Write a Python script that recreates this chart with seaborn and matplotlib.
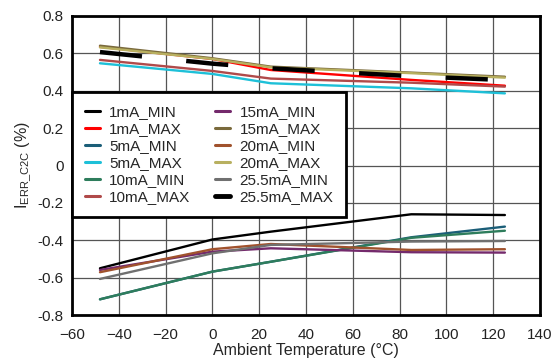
import matplotlib
matplotlib.use("Agg")
import matplotlib.pyplot as plt
import seaborn as sns
import pandas as pd

temps = [-48, 0, 25, 85, 125]
ma1_min = [-0.550, -0.396, -0.354, -0.261, -0.265]
ma1_max = [0.635, 0.570, 0.511, 0.458, 0.427]
ma5_min = [-0.716, -0.568, -0.515, -0.384, -0.327]
ma5_max = [0.547, 0.490, 0.440, 0.413, 0.386]
ma10_min = [-0.716, -0.568, -0.515, -0.387, -0.349]
ma10_max = [0.565, 0.506, 0.465, 0.443, 0.422]
ma15_min = [-0.559, -0.461, -0.443, -0.464, -0.466]
ma15_max = [0.641, 0.574, 0.529, 0.497, 0.475]
ma20_min = [-0.571, -0.448, -0.420, -0.452, -0.448]
ma20_max = [0.632, 0.570, 0.525, 0.494, 0.470]
ma25_min = [-0.607, -0.470, -0.425, -0.407, -0.404]
ma25_max = [0.607, 0.545, 0.520, 0.478, 0.457]

series_names = ["1mA_MIN", "1mA_MAX", "5mA_MIN", "5mA_MAX", "10mA_MIN", "10mA_MAX",
                "15mA_MIN", "15mA_MAX", "20mA_MIN", "20mA_MAX", "25.5mA_MIN", "25.5mA_MAX"]
series_vals = [ma1_min, ma1_max, ma5_min, ma5_max, ma10_min, ma10_max,
               ma15_min, ma15_max, ma20_min, ma20_max, ma25_min, ma25_max]
colors = ["#000000", "#ff0000", "#1b5e78", "#1ec0d8", "#2e7d5c", "#b04a4a",
          "#742a6c", "#7a6a3c", "#a0522d", "#b8b060", "#707070", "#000000"]

xticks = [-60, -40, -20, 0, 20, 40, 60, 80, 100, 120, 140]
yticks = [-0.8, -0.6, -0.4, -0.2, 0, 0.2, 0.4, 0.6, 0.8]
yticklabels = ["-0.8", "-0.6", "-0.4", "-0.2", "0", "0.2", "0.4", "0.6", "0.8"]

sns.set_style("white")
plt.rcParams["font.family"] = ["Liberation Sans", "DejaVu Sans"]
plt.rcParams["mathtext.fontset"] = "custom"
plt.rcParams["mathtext.rm"] = "Liberation Sans"
plt.rcParams["mathtext.it"] = "Liberation Sans"

fig = plt.figure(figsize=(5.53, 3.61), dpi=100)
ax = fig.add_axes([0.130, 0.1274, 0.8465, 0.8283])

for name, vals, c in zip(series_names, series_vals, colors):
    df = pd.DataFrame({"T": temps, "v": vals})
    if name == "25.5mA_MAX":
        sns.lineplot(data=df, x="T", y="v", ax=ax, color=c, lw=3.2, label=name)
        ax.lines[-1].set_dashes((9.5, 10))
    else:
        sns.lineplot(data=df, x="T", y="v", ax=ax, color=c, lw=1.7, label=name)

ax.set_xlim(-60, 140)
ax.set_ylim(-0.8, 0.8)
ax.set_xticks(xticks)
ax.set_yticks(yticks)
ax.set_yticklabels(yticklabels)
ax.tick_params(axis="both", length=0, labelsize=11, colors="#222222")
ax.tick_params(axis="x", pad=9)
ax.tick_params(axis="y", pad=6)
ax.grid(True, color="#555555", lw=0.9)
for s in ax.spines.values():
    s.set_visible(True)
    s.set_color("black")
    s.set_linewidth(2)

ax.set_xlabel("Ambient Temperature (°C)", fontsize=11.5, labelpad=1)
ax.set_ylabel(r"I$_{\mathrm{ERR\_C2C}}$ (%)", fontsize=11.5, labelpad=3)

leg = ax.legend(ncol=2, loc="upper left", bbox_to_anchor=(0.0, 0.745),
                borderaxespad=0, fontsize=11, handlelength=1.0, handletextpad=0.6,
                columnspacing=1.6, labelspacing=0.2, fancybox=False, framealpha=1,
                edgecolor="black", borderpad=0.85)
leg.get_frame().set_linewidth(2)
for h in leg.get_lines()[:-1]:
    h.set_linestyle("-")
    h.set_linewidth(2.2)
last = leg.get_lines()[-1]
last.set_linestyle("-")
last.set_linewidth(3.5)

fig.savefig("out.png", dpi=100)
